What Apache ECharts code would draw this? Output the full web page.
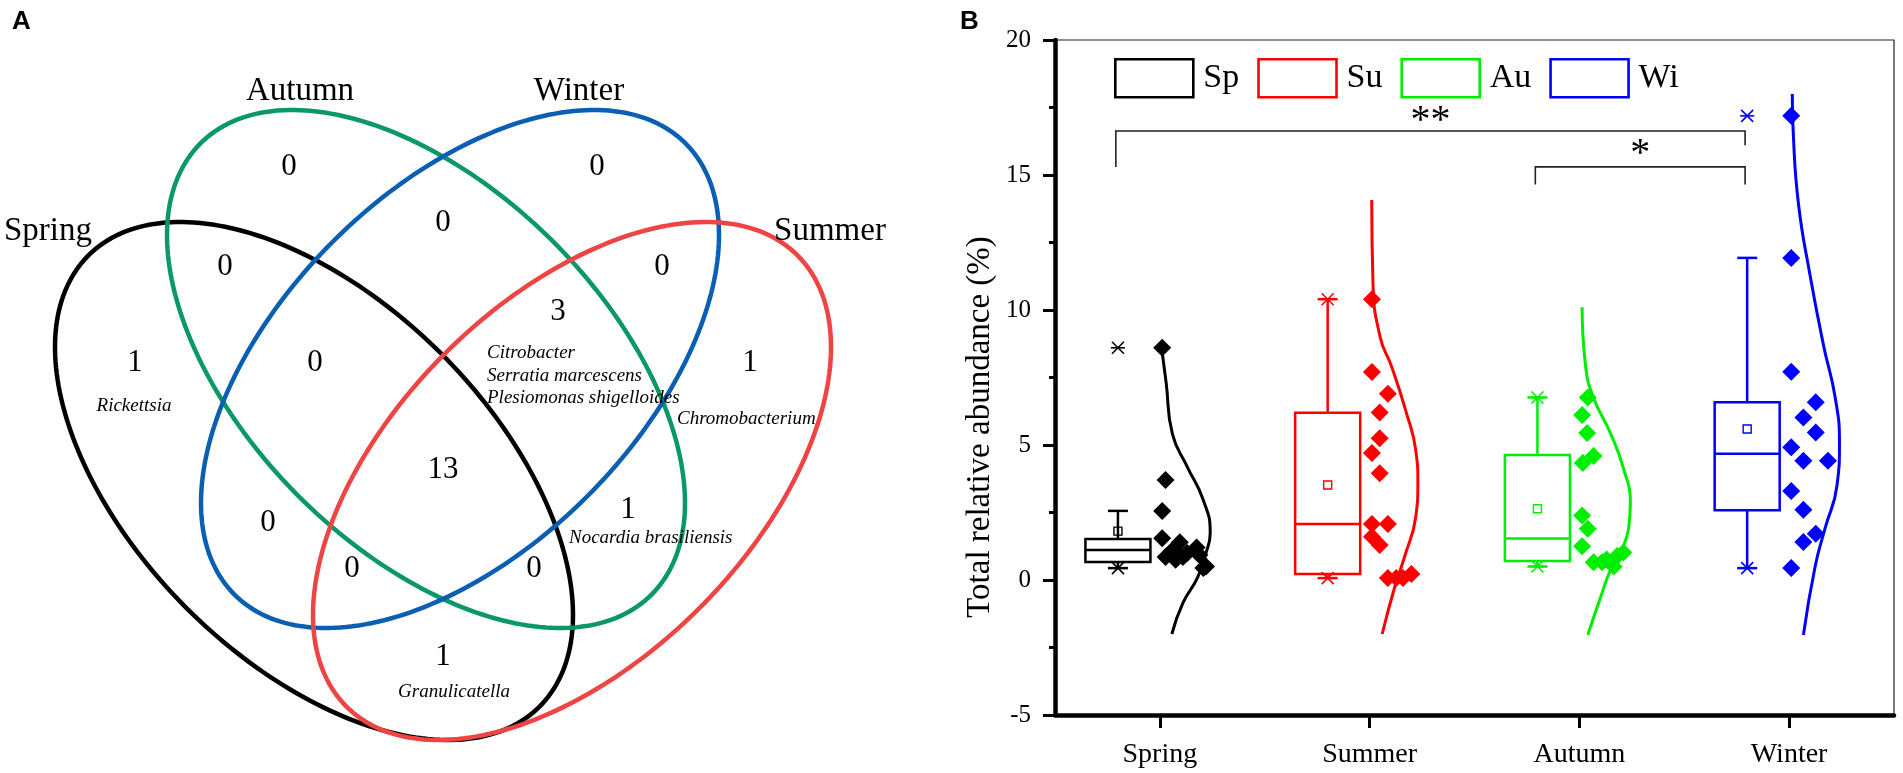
<!DOCTYPE html>
<html><head><meta charset="utf-8">
<script src="https://cdn.jsdelivr.net/npm/echarts@6/dist/echarts.min.js"></script>
<style>html,body{margin:0;padding:0;background:#fff}#c{width:1903px;height:773px}</style>
</head><body><div id="c"></div>
<script>
// ================= DATA =================
// Panel A (Venn)
const vennSets = ['Spring', 'Autumn', 'Winter', 'Summer'];
const vennRegions = ['Spring', 'Autumn', 'Winter', 'Summer',
  'Spring∩Autumn', 'Autumn∩Winter', 'Winter∩Summer', 'Spring∩Winter', 'Autumn∩Summer', 'Spring∩Summer',
  'Spring∩Autumn∩Winter', 'Autumn∩Winter∩Summer', 'Spring∩Winter∩Summer', 'Spring∩Autumn∩Summer', 'All'];
const vennCounts = [1, 0, 0, 1, 0, 0, 0, 0, 1, 1, 0, 3, 0, 0, 13];
const vennTaxa = [['Rickettsia'], [], [], ['Chromobacterium'], [], [], [], [], ['Nocardia brasiliensis'], ['Granulicatella'],
  [], ['Citrobacter', 'Serratia marcescens', 'Plesiomonas shigelloides'], [], [], []];

// Panel B (box plot)
const categories = ['Spring', 'Summer', 'Autumn', 'Winter'];
const legendNames = ['Sp', 'Su', 'Au', 'Wi'];
const springVals = [8.6, 3.7, 2.56, 1.55, 1.4, 1.2, 1.1, 1.0, 0.93, 0.85, 0.85, 0.75, 0.5, 0.44];
const summerVals = [10.4, 7.7, 6.9, 6.2, 5.25, 4.7, 3.95, 2.07, 2.07, 1.6, 1.3, 0.07, 0.07, 0.07, 0.22];
const autumnVals = [6.76, 6.11, 5.44, 4.59, 4.33, 2.39, 1.90, 1.25, 0.66, 0.66, 0.76, 0.5, 0.89, 1.02];
const winterVals = [17.19, 11.93, 7.71, 6.58, 6.02, 5.46, 4.92, 4.42, 4.42, 3.30, 2.60, 1.71, 1.41, 0.44];
// horizontal jitter of each point (category units)
const springJit = [0.011, 0.027, 0.011, 0.011, 0.095, 0.175, 0.06, 0.13, 0.188, 0.027, 0.11, 0.075, 0.22, 0.207];
const summerJit = [0.011, 0.011, 0.087, 0.048, 0.048, 0.011, 0.048, 0.011, 0.087, 0.011, 0.048, 0.087, 0.127, 0.159, 0.199];
const autumnJit = [0.04, 0.013, 0.037, 0.068, 0.016, 0.013, 0.04, 0.013, 0.068, 0.108, 0.13, 0.164, 0.18, 0.21];
const winterJit = [0.01, 0.01, 0.01, 0.127, 0.068, 0.127, 0.01, 0.068, 0.185, 0.01, 0.068, 0.127, 0.068, 0.01];
// box statistics
const whiskerLow = [0.44, 0.07, 0.5, 0.44];
const boxQ1 = [0.67, 0.22, 0.70, 2.58];
const boxMedian = [1.11, 2.07, 1.54, 4.68];
const boxQ3 = [1.52, 6.19, 4.63, 6.58];
const whiskerHigh = [2.56, 10.4, 6.76, 11.93];
const boxMean = [1.81, 3.52, 2.64, 5.59];
const dataMin = [0.44, 0.07, 0.5, 0.44];
const dataMax = [8.6, 10.4, 6.76, 17.19];
// normal-curve outlines: [value, width in category units]
const springCurve = [[8.5, 0.01], [7.3, 0.03], [5.4, 0.06], [4.2, 0.13], [3.0, 0.205], [1.75, 0.24], [1.0, 0.22], [0.1, 0.18], [-0.85, 0.11], [-2.0, 0.057]];
const summerCurve = [[14.07, 0.01], [11, 0.016], [9, 0.05], [7.9, 0.105], [6.2, 0.175], [4.8, 0.22], [3.6, 0.23], [2.35, 0.22], [0.87, 0.167], [-0.25, 0.12], [-2, 0.06]];
const autumnCurve = [[10.1, 0.013], [7.9, 0.03], [6.74, 0.068], [5.44, 0.148], [4.14, 0.21], [2.84, 0.243], [1.93, 0.235], [1.15, 0.204], [0.37, 0.148], [-0.67, 0.1], [-2.04, 0.04]];
const winterCurve = [[18.0, 0.015], [16.5, 0.02], [13.9, 0.045], [11.28, 0.1], [8.69, 0.164], [6.74, 0.22], [5.05, 0.24], [3.49, 0.228], [1.93, 0.172], [0.5, 0.124], [-2.04, 0.068]];
// significance brackets
const sigFrom = [0, 2];
const sigTo = [3, 3];
const sigLevel = [16.63, 15.3];
const sigLeftEnd = [15.3, 14.65];
const sigRightEnd = [16.1, 14.65];
const sigMark = ['**', '*'];
const sigMarkY = [17.0, 15.75];

// ================= LAYOUT / STYLE =================
const SERIF = "'Liberation Serif', 'Times New Roman', serif";
const vennColors = ['#000000', '#0a9966', '#0a5fb2', '#ee4444'];
const boxColors = ['#000000', '#ff0000', '#00ee00', '#0000ff'];
// Venn geometry in panel-A units (1 unit = 1px of panel A)
const vennEllipse = [
  { cx: 314, cy: 481, a: 319, b: 180, ang: 45 },
  { cx: 426, cy: 369, a: 319, b: 180, ang: 45 },
  { cx: 460, cy: 369, a: 319, b: 180, ang: -45 },
  { cx: 572, cy: 481, a: 319, b: 180, ang: -45 }
];
const vennSetLabelPos = [[48, 231], [300, 91], [579, 91], [830, 231]];
const vennCountPos = [[135, 363], [289, 167], [597, 167], [750, 363], [225, 267], [443, 223], [662, 267], [268, 523],
  [628, 510], [443, 657], [315, 363], [558, 312], [352, 569], [534, 569], [443, 470]];
const vennTaxaPos = [[134, 406, 'center'], null, null, [677, 419, 'left'], null, null, null, null, [569, 538, 'left'],
  [454, 692, 'center'], null, [487, 353, 'left'], null, null, null];
const TAXA_LINE = 22.5;
const BOX_OFF = -0.2, BOX_HALF = 0.155;

const seasonVals = [springVals, summerVals, autumnVals, winterVals];
const seasonJit = [springJit, summerJit, autumnJit, winterJit];
const seasonCurve = [springCurve, summerCurve, autumnCurve, winterCurve];

function txt(x, y, text, size, align, italic) {
  return { type: 'text', x: x, y: y, style: { text: text, fontFamily: SERIF, fontSize: size, fontStyle: italic ? 'italic' : 'normal',
    fill: '#000', align: align || 'center', verticalAlign: 'middle', textAlign: align || 'center', textVerticalAlign: 'middle' } };
}

const series = [];

// ---- Venn ellipses ----
series.push({
  type: 'custom', xAxisIndex: 2, yAxisIndex: 1, silent: true,
  data: vennSets.map((s, i) => [i]),
  renderItem: function (params, api) {
    const i = params.dataIndex, e = vennEllipse[i];
    const phi = e.ang * Math.PI / 180;
    const pts = [];
    for (let k = 0; k < 240; k++) {
      const t = k / 240 * Math.PI * 2;
      const u = e.a * Math.cos(t), v = e.b * Math.sin(t);
      pts.push(api.coord([e.cx + u * Math.cos(phi) - v * Math.sin(phi), e.cy + u * Math.sin(phi) + v * Math.cos(phi)]));
    }
    return { type: 'polygon', shape: { points: pts }, style: { fill: 'none', stroke: vennColors[i], lineWidth: 4.5 } };
  }
});
// ---- Venn set names ----
series.push({
  type: 'custom', xAxisIndex: 2, yAxisIndex: 1, silent: true,
  data: vennSets.map((s, i) => [i]),
  renderItem: function (params, api) {
    const i = params.dataIndex;
    const c = api.coord(vennSetLabelPos[i]);
    return txt(c[0], c[1], vennSets[i], 33);
  }
});
// ---- Venn counts + taxa ----
series.push({
  type: 'custom', xAxisIndex: 2, yAxisIndex: 1, silent: true,
  data: vennCounts.map((v, i) => [i, v]),
  renderItem: function (params, api) {
    const i = params.dataIndex;
    const c = api.coord(vennCountPos[i]);
    const children = [txt(c[0], c[1], String(vennCounts[i]), 31)];
    const tp = vennTaxaPos[i];
    if (tp) {
      vennTaxa[i].forEach(function (name, k) {
        const p = api.coord([tp[0], tp[1] + k * TAXA_LINE]);
        children.push(txt(p[0], p[1], name, 19, tp[2], true));
      });
    }
    return { type: 'group', children: children };
  }
});

// ---- Panel B: density outlines ----
seasonCurve.forEach(function (curve, i) {
  series.push({
    type: 'line', xAxisIndex: 1, yAxisIndex: 0, silent: true, smooth: 0.5, showSymbol: false, symbol: 'none',
    data: curve.map(p => [i + p[1], p[0]]),
    lineStyle: { color: boxColors[i], width: 3 }, z: 2
  });
});
// ---- Panel B: boxes (legend series) ----
legendNames.forEach(function (nm, i) {
  series.push({
    type: 'custom', name: nm, xAxisIndex: 1, yAxisIndex: 0, silent: true, z: 3,
    itemStyle: { color: boxColors[i] },
    data: [[i, whiskerLow[i], boxQ1[i], boxMedian[i], boxQ3[i], whiskerHigh[i], boxMean[i], dataMin[i], dataMax[i]]],
    encode: { x: 0, y: [1, 2, 3, 4, 5] },
    renderItem: function (params, api) {
      const col = boxColors[i];
      const xc = api.value(0) + BOX_OFF;
      const P = v => api.coord([xc, v]);
      const half = Math.abs(api.coord([xc + BOX_HALF, 0])[0] - api.coord([xc, 0])[0]);
      const wl = P(api.value(1)), q1 = P(api.value(2)), md = P(api.value(3)), q3 = P(api.value(4)), wh = P(api.value(5)), mn = P(api.value(6));
      const mi = P(api.value(7)), ma = P(api.value(8));
      const x = q1[0];
      const st = { stroke: col, lineWidth: 2.5, fill: 'none' };
      const ln = (x1, y1, x2, y2, w) => ({ type: 'line', shape: { x1: x1, y1: y1, x2: x2, y2: y2 }, style: { stroke: col, lineWidth: w || 2.5 } });
      const ch = [
        { type: 'rect', shape: { x: x - half, y: q3[1], width: half * 2, height: q1[1] - q3[1] }, style: st },
        ln(x - half, md[1], x + half, md[1]),
        ln(x, q3[1], x, wh[1]), ln(x, q1[1], x, wl[1]),
        ln(x - 10, wh[1], x + 10, wh[1]), ln(x - 10, wl[1], x + 10, wl[1]),
        { type: 'rect', shape: { x: mn[0] - 4, y: mn[1] - 4, width: 8, height: 8 }, style: { stroke: col, lineWidth: 1.4, fill: 'none' } }
      ];
      [mi, ma].forEach(function (p) {
        ch.push(ln(p[0] - 6, p[1] - 6, p[0] + 6, p[1] + 6, 1.6));
        ch.push(ln(p[0] - 6, p[1] + 6, p[0] + 6, p[1] - 6, 1.6));
        ch.push(ln(p[0] - 7, p[1], p[0] + 7, p[1], 1.6));
      });
      return { type: 'group', children: ch };
    }
  });
});
// ---- Panel B: points ----
seasonVals.forEach(function (vals, i) {
  series.push({
    type: 'scatter', xAxisIndex: 1, yAxisIndex: 0, silent: true, z: 4,
    symbol: 'diamond', symbolSize: 18,
    itemStyle: { color: boxColors[i], opacity: 1 },
    data: vals.map((v, k) => [i + seasonJit[i][k], v])
  });
});
// ---- Panel B: significance brackets ----
series.push({
  type: 'custom', xAxisIndex: 1, yAxisIndex: 0, silent: true, z: 5,
  data: sigMark.map((m, i) => [i]),
  renderItem: function (params, api) {
    const i = params.dataIndex;
    const xl = sigFrom[i] - 0.21, xr = sigTo[i] - 0.21;
    const pts = [api.coord([xl, sigLeftEnd[i]]), api.coord([xl, sigLevel[i]]), api.coord([xr, sigLevel[i]]), api.coord([xr, sigRightEnd[i]])];
    const mp = api.coord([(xl + xr) / 2, sigMarkY[i]]);
    return { type: 'group', children: [
      { type: 'polyline', shape: { points: pts }, style: { stroke: '#222', lineWidth: 1.6, fill: 'none' } },
      txt(mp[0], mp[1], sigMark[i], 40)
    ] };
  }
});

const option = {
  animation: false,
  backgroundColor: '#fff',
  graphic: [
    { type: 'text', left: 12, top: 9, style: { text: 'A', font: 'bold 26px "Liberation Sans", Arial, sans-serif', fill: '#000' } },
    { type: 'text', left: 960, top: 9, style: { text: 'B', font: 'bold 26px "Liberation Sans", Arial, sans-serif', fill: '#000' } }
  ],
  legend: {
    left: 1109, top: 53, itemWidth: 78, itemHeight: 38, itemGap: 18, selectedMode: false,
    icon: 'rect',
    textStyle: { fontFamily: SERIF, fontSize: 34, color: '#000', padding: [0, 0, 0, 5] },
    data: legendNames.map((n, i) => ({ name: n, icon: 'rect', itemStyle: { color: '#fff', borderColor: boxColors[i], borderWidth: 2.6 } }))
  },
  grid: [
    { left: 1055, right: 9, top: 40, bottom: 58, show: true, borderColor: '#222', borderWidth: 1.2, backgroundColor: 'transparent' },
    { left: 0, top: 0, width: 950, height: 773, show: false }
  ],
  xAxis: [
    { type: 'category', gridIndex: 0, data: categories, position: 'bottom', boundaryGap: true,
      axisLine: { show: true, onZero: false, lineStyle: { color: '#000', width: 4.5 } },
      axisTick: { show: true, alignWithLabel: true, length: 13, lineStyle: { color: '#000', width: 3 } },
      axisLabel: { fontFamily: SERIF, fontSize: 28, color: '#000', margin: 26 },
      splitLine: { show: false } },
    { type: 'value', gridIndex: 0, min: -0.5, max: 3.5, show: false },
    { type: 'value', gridIndex: 1, min: 0, max: 950, show: false }
  ],
  yAxis: [
    { type: 'value', gridIndex: 0, min: -5, max: 20, interval: 5,
      name: 'Total relative abundance (%)', nameLocation: 'middle', nameGap: 58, nameRotate: 90,
      nameTextStyle: { fontFamily: SERIF, fontSize: 33, color: '#000', padding: [0, 99, 0, 0] },
      axisLine: { show: true, onZero: false, lineStyle: { color: '#000', width: 4.5 } },
      axisTick: { show: true, length: 12, lineStyle: { color: '#000', width: 3 } },
      minorTick: { show: true, splitNumber: 2, length: 6, lineStyle: { color: '#000', width: 3 } },
      axisLabel: { fontFamily: SERIF, fontSize: 25, color: '#000', margin: 24 },
      splitLine: { show: false }, minorSplitLine: { show: false } },
    { type: 'value', gridIndex: 1, min: 0, max: 773, inverse: true, show: false }
  ],
  series: series
};
const chart = echarts.init(document.getElementById('c'));
chart.setOption(option);
</script></body></html>
